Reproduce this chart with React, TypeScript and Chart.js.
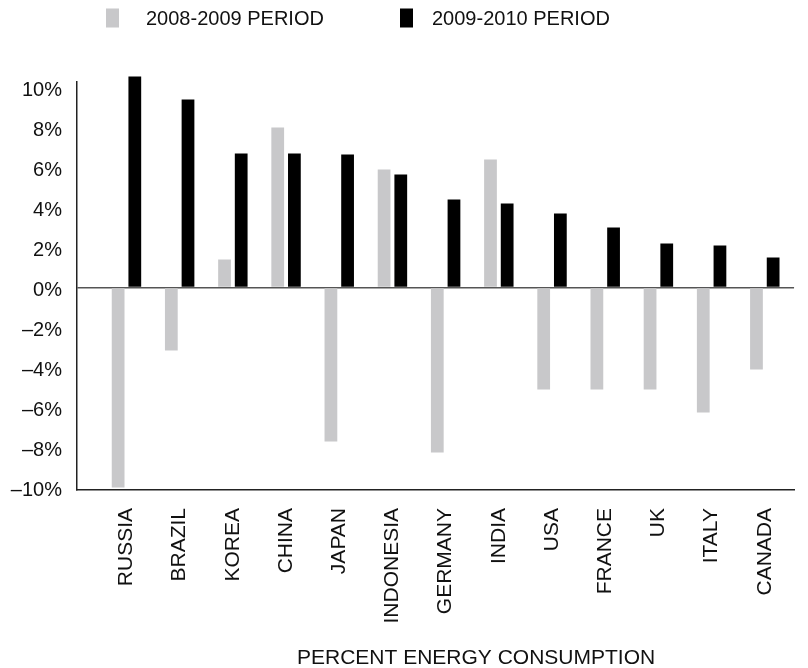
import React, { useEffect, useRef } from 'react';
import { Chart, registerables } from 'chart.js';

Chart.register(...registerables);

const categories = ['RUSSIA', 'BRAZIL', 'KOREA', 'CHINA', 'JAPAN', 'INDONESIA', 'GERMANY', 'INDIA', 'USA', 'FRANCE', 'UK', 'ITALY', 'CANADA'];
const period0809 = [-10.0, -3.15, 1.4, 8.0, -7.7, 5.9, -8.25, 6.4, -5.1, -5.1, -5.1, -6.25, -4.1];
const period0910 = [10.55, 9.4, 6.7, 6.7, 6.65, 5.65, 4.4, 4.2, 3.7, 3.0, 2.2, 2.1, 1.5];
const yTickValues = [-10, -8, -6, -4, -2, 0, 2, 4, 6, 8, 10];
const seriesLabels = ['2008-2009 PERIOD', '2009-2010 PERIOD'];
const seriesColors = ['#c8c8ca', '#000000'];
const xAxisTitle = 'PERCENT ENERGY CONSUMPTION';

const FONT = '"Liberation Sans", Arial, Helvetica, sans-serif';

const legendItems = [
  { boxX: 106, textX: 146 },
  { boxX: 400, textX: 432 },
];

const annotationPlugin = {
  id: 'topLegendAndTitle',
  afterDraw(chart: any) {
    const ctx = chart.ctx;
    ctx.save();
    ctx.font = `20px ${FONT}`;
    ctx.textBaseline = 'middle';
    ctx.textAlign = 'left';
    const y = 18;
    chart.data.datasets.forEach((ds: any, i: number) => {
      const it = legendItems[i];
      ctx.fillStyle = ds.backgroundColor;
      ctx.fillRect(it.boxX, y - 9.5, 13, 19);
      ctx.fillStyle = '#111';
      ctx.fillText(ds.label, it.textX, y + 1);
    });
    ctx.font = `21px ${FONT}`;
    ctx.fillStyle = '#111';
    ctx.fillText(xAxisTitle, 297, 658);
    ctx.restore();
  },
};

export default function App() {
  const ref = useRef<HTMLCanvasElement | null>(null);

  useEffect(() => {
    if (!ref.current) return;
    const chart = new Chart(ref.current, {
      type: 'bar',
      data: {
        datasets: [
          {
            label: seriesLabels[0],
            data: period0809.map((v, i) => ({ x: i, y: v })),
            backgroundColor: seriesColors[0],
            categoryPercentage: 0.627,
            barPercentage: 0.765,
            clip: false,
          } as any,
          {
            label: seriesLabels[1],
            data: period0910.map((v, i) => ({ x: i, y: v })),
            backgroundColor: seriesColors[1],
            categoryPercentage: 0.627,
            barPercentage: 0.765,
            clip: false,
          } as any,
        ],
      },
      options: {
        responsive: false,
        animation: false,
        layout: { padding: { top: 82, left: 0, right: 0, bottom: 0 } },
        plugins: {
          legend: { display: false },
          tooltip: { enabled: false },
          title: { display: false },
        },
        scales: {
          x: {
            type: 'linear',
            min: -0.93,
            max: 12.55,
            offset: false,
            afterBuildTicks: (s: any) => {
              s.ticks = categories.map((_, i) => ({ value: i }));
            },
            afterFit: (s: any) => {
              s.height = 178;
            },
            ticks: {
              autoSkip: false,
              minRotation: 90,
              maxRotation: 90,
              padding: 18,
              color: '#111',
              font: { family: FONT, size: 21 },
              callback: (v: any) => categories[v as number] ?? '',
            },
            grid: { display: false, drawTicks: false },
            border: { display: true, color: '#222', width: 1.5 },
          },
          y: {
            min: -10.125,
            max: 10.275,
            afterBuildTicks: (s: any) => {
              s.ticks = yTickValues.map((v) => ({ value: v }));
            },
            afterFit: (s: any) => {
              s.width = 77;
            },
            ticks: {
              padding: 15,
              labelOffset: 3,
              color: '#111',
              font: { family: FONT, size: 20 },
              callback: (v: any) => (v < 0 ? '\u2013' : '') + Math.abs(v) + '%',
            },
            grid: {
              drawTicks: false,
              color: (c: any) => (c.tick && c.tick.value === 0 ? '#555' : 'rgba(0,0,0,0)'),
              lineWidth: 1.5,
            },
            border: { display: true, color: '#222', width: 1.5 },
          },
        },
      } as any,
      plugins: [annotationPlugin],
    });
    return () => chart.destroy();
  }, []);

  return (
    <div style={{ position: 'fixed', left: 0, top: 0, width: 808, height: 668, background: '#fff' }}>
      <canvas ref={ref} width={808} height={668} style={{ display: 'block' }} />
    </div>
  );
}
